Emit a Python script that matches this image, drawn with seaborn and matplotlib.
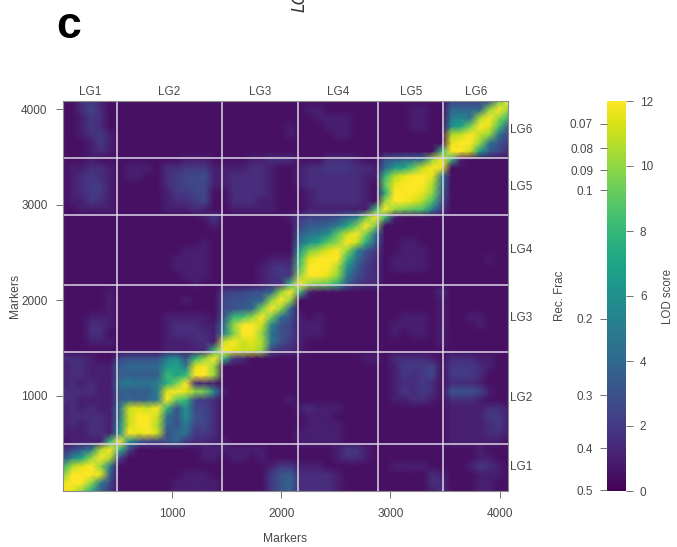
"""LOD score / recombination fraction heatmap for six linkage groups."""

import matplotlib.pyplot as plt
import numpy as np
import seaborn as sns

# one row per 86.8 markers, bottom row first. each character is a LOD in half units
# (base 36, so 1 = 0.5, o = 12). groups are split by LG along the x axis
lod_rows = [
    "onkf74 11111122222 11111467 333321111 1111123 1112211",
    "nooka5 11111122222 11111468 333321111 1111133 1112211",
    "jooon7 11111112221 11111467 333321111 1111132 1112221",
    "flnoka 11111111111 11111244 222111111 1222211 1124321",
    "5bekol 51111111122 12212111 111123321 1111111 1112211",
    "357alo g5111111122 22222111 111124421 1111111 1112111",
    "12222g oc755684332 21111111 222221111 1111111 2222221",
    "222332 conom689443 11111111 222221111 1111111 2222332",
    "232332 bmool86a553 11111111 122221111 1111111 2222342",
    "233332 9moom96c653 11111111 122211111 1111111 2222442",
    "232322 9mnmog6c553 11111111 232221111 1111111 2222332",
    "332222 7878aoig543 11111112 111111111 1223321 3332111",
    "333322 7777anonkjb 21111111 111111111 1243431 6665211",
    "232322 9a99afjo332 11111111 111111111 1233431 3332111",
    "233222 77777gegook 11111111 111111111 1243451 4443111",
    "233222 78888deanok 11111111 111111111 1244451 4443211",
    "333211 56666ac6gko g4311111 111111122 1333321 3332211",
    "111111 1111122223g onmmk533 211111111 1111111 1111111",
    "111222 11111222332 momnla64 211111111 1111112 1111111",
    "111331 11111233332 ajook965 222111111 1212212 1111111",
    "111332 11111233322 9koomb65 222111111 1222212 1112111",
    "111222 11111222221 6ghkoj96 212111111 1122212 1122111",
    "111112 11111111111 5678jok8 111111111 1111112 1111111",
    "111112 11111112111 56678kok 111111111 1111112 1111111",
    "111112 11111111111 455668ko g21111111 1111113 1111111",
    "111111 11111111211 1111233g okjif7433 1111111 1111111",
    "111111 11111112221 11112344 koonka643 1111111 1111111",
    "111111 11111122221 11112343 hooolc743 1222211 1111111",
    "111111 11111122221 11111222 gnooog953 1222211 1111211",
    "111111 11111112221 11111111 djlnokb64 1122211 1111111",
    "111111 11111111121 11111111 9ceikomf7 1122111 1111111",
    "111111 11111111111 11111111 79acimoj9 1111111 1111111",
    "111111 11111111112 11111111 5778aejoj 1111111 1111111",
    "111111 11111111124 11111112 455568ajo g211111 1111111",
    "112222 11111222321 12222211 12222222g okjiha4 1111111",
    "122432 11111233451 13332211 123333321 koonlh6 1111111",
    "123442 11111244551 13333211 123333321 fooonk8 1111111",
    "123442 11111345552 23333211 233333321 inoool9 1111111",
    "123432 12211345562 23333211 233333322 glnoona 1111111",
    "122332 12221334442 22233211 233444332 8deimon 1111111",
    "111211 11111112221 11122333 111333211 67889ko g211111",
    "111232 11111111111 11111111 111111111 111111g oomd753",
    "111242 11111111111 11111111 111111111 1111111 nook964",
    "112342 11111111111 11111112 111122111 1111111 lmomk95",
    "112431 11111111111 11111112 111222111 1112211 cejonh7",
    "112431 11111111111 11111111 112222111 1112211 ab9lokg",
    "113531 11111111111 11111111 122111111 1112211 8888kok",
    "113421 11111111111 11111111 111111111 1111111 5555 6jo".replace(" ", ""),
]

lg_names = ["LG1", "LG2", "LG3", "LG4", "LG5", "LG6"]
lg_edges = [0, 497, 1458, 2155, 2890, 3485, 4080]
marker_ticks = [1000, 2000, 3000, 4000]
lod_ticks = [0, 2, 4, 6, 8, 10, 12]
rec_frac_labels = ["0.07", "0.08", "0.09", "0.1", "0.2", "0.3", "0.4", "0.5"]
rec_frac_lods = [11.3, 10.55, 9.87, 9.26, 5.3, 2.95, 1.32, 0.03]

TEXT = "#484848"
W, H = 677, 547

sns.set_style("white")
plt.rcParams["font.family"] = ["Liberation Sans", "DejaVu Sans"]
plt.rcParams["font.size"] = 8.5

lod = np.array([[int(c, 36) / 2 for c in row.replace(" ", "")] for row in lod_rows])
step = lg_edges[-1] / (lod.shape[0] - 1)


def to_cell(markers):
    return np.asarray(markers) / step


fig = plt.figure(figsize=(W / 100, H / 100), dpi=100)
ax = fig.add_axes([62.7 / W, 1 - 491 / H, 445.6 / W, 389.6 / H])
cax = fig.add_axes([607 / W, 1 - 491 / H, 19 / W, 390 / H])

# gouraud keeps the soft look of the original raster
sns.heatmap(lod, ax=ax, cbar_ax=cax, cmap="viridis", vmin=0, vmax=12, shading="gouraud",
            xticklabels=False, yticklabels=False)
n = lod.shape[0] - 1
ax.set_xlim(0, n)
ax.set_ylim(0, n)

for edge in to_cell(lg_edges[1:-1]):
    ax.axvline(edge, color="#ddd6e6", lw=1.1)
    ax.axhline(edge, color="#ddd6e6", lw=1.1)

ax.set_xticks(to_cell(marker_ticks), [str(m) for m in marker_ticks])
ax.set_yticks(to_cell(marker_ticks), [str(m) for m in marker_ticks])
ax.tick_params(left=True, bottom=True, length=5, width=0.7, color="#707070", labelcolor=TEXT,
               labelsize=8.5, pad=6)
ax.tick_params(axis="x", pad=7)
for spine in ax.spines.values():
    spine.set_visible(True)
    spine.set_color("#8a8a8a")
    spine.set_linewidth(0.8)

mids = to_cell([(a + b) / 2 for a, b in zip(lg_edges[:-1], lg_edges[1:])])
for name, mid in zip(lg_names, mids):
    ax.text(mid, n + 0.45, name, ha="center", va="bottom", color=TEXT, fontsize=8.5)
    ax.text(n + 0.2, mid, name, ha="left", va="center", color=TEXT, fontsize=8.5)

rec_ax = cax.twinx()
rec_ax.set_ylim(0, 12)
rec_ax.yaxis.set_ticks_position("left")
rec_ax.set_yticks(rec_frac_lods, rec_frac_labels)
rec_ax.tick_params(left=True, right=False, length=5, width=0.7, color="#707070", labelcolor=TEXT,
                   labelsize=8.5, pad=5)

# twinx moves the colorbar's own ticks to the left, put them back
cax.yaxis.set_ticks_position("right")
cax.set_yticks(lod_ticks, [str(t) for t in lod_ticks])
cax.tick_params(left=False, right=True, length=5, width=0.7, color="#707070", labelcolor=TEXT,
                labelsize=8.5, pad=5)
for a in (cax, rec_ax):
    for spine in a.spines.values():
        spine.set_visible(False)

fig.text(285 / W, 1 - 539 / H, "Markers", ha="center", va="center", color=TEXT, fontsize=8.7)
fig.text(15 / W, 1 - 296 / H, "Markers", ha="center", va="center", rotation=90, color=TEXT, fontsize=8.7)
fig.text(560 / W, 1 - 296 / H, "Rec. Frac", ha="center", va="center", rotation=90, color=TEXT, fontsize=8.4)
fig.text(668 / W, 1 - 296 / H, "LOD score", ha="center", va="center", rotation=90, color=TEXT, fontsize=8.3)
fig.text(56 / W, 1 - 38 / H, "c", ha="left", va="baseline", color="black", fontsize=32, fontweight="bold")
fig.text(305 / W, 1 - 12 / H, "LOD", ha="left", va="baseline", rotation=90, rotation_mode="anchor",
         color="#333333", fontsize=12, style="italic", family="DejaVu Sans")

fig.savefig("out.png", dpi=100)
